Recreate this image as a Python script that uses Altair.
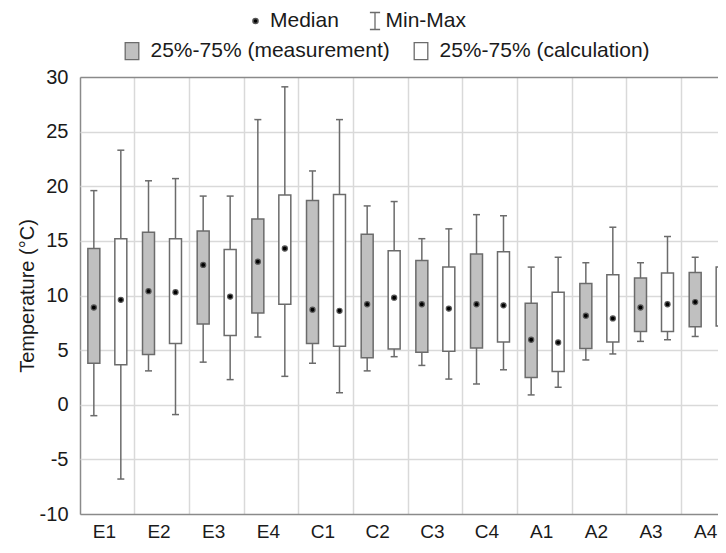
import altair as alt
import pandas as pd

categories = ["E1", "E2", "E3", "E4", "C1", "C2", "C3", "C4", "A1", "A2", "A3", "A4"]
types = ["25%-75% (measurement)", "25%-75% (calculation)"]

meas_min = [-1.0, 3.1, 3.9, 6.2, 3.8, 3.1, 3.6, 1.9, 0.9, 4.1, 5.8, 6.25]
meas_q1 = [3.8, 4.6, 7.4, 8.4, 5.6, 4.3, 4.8, 5.2, 2.5, 5.15, 6.7, 7.15]
meas_med = [8.9, 10.4, 12.8, 13.1, 8.7, 9.2, 9.2, 9.2, 5.95, 8.15, 8.9, 9.4]
meas_q3 = [14.3, 15.8, 15.9, 17.0, 18.7, 15.6, 13.2, 13.8, 9.3, 11.1, 11.6, 12.1]
meas_max = [19.6, 20.5, 19.1, 26.1, 21.4, 18.2, 15.2, 17.4, 12.6, 13.0, 13.0, 13.5]

calc_min = [-6.8, -0.9, 2.3, 2.6, 1.1, 4.4, 2.35, 3.2, 1.6, 4.65, 5.95, 6.5]
calc_q1 = [3.65, 5.6, 6.35, 9.2, 5.35, 5.1, 4.9, 5.75, 3.05, 5.75, 6.7, 7.2]
calc_med = [9.6, 10.3, 9.9, 14.3, 8.6, 9.8, 8.8, 9.1, 5.7, 7.9, 9.2, 9.7]
calc_q3 = [15.2, 15.2, 14.2, 19.2, 19.25, 14.1, 12.6, 14.0, 10.3, 11.9, 12.05, 12.6]
calc_max = [23.3, 20.7, 19.1, 29.1, 26.1, 18.6, 16.1, 17.3, 13.5, 16.25, 15.4, 15.9]

rows = []
for i, c in enumerate(categories):
    rows.append(dict(cat=c, type=types[0], mn=meas_min[i], q1=meas_q1[i], med=meas_med[i],
                     q3=meas_q3[i], mx=meas_max[i], leg="Median", mm="Min-Max"))
    rows.append(dict(cat=c, type=types[1], mn=calc_min[i], q1=calc_q1[i], med=calc_med[i],
                     q3=calc_q3[i], mx=calc_max[i], leg="Median", mm="Min-Max"))
df = pd.DataFrame(rows)

FONT = "Liberation Sans"
W, H = 638, 437          # visible plot area
RANGE_W = 656            # full band range (the last box runs past the page edge)
DARK = "#8a8a8a"
GRID = "#d9d9d9"
LINE = "#6b6b6b"
TXT = "#1a1a1a"

dot_path = "M0,-0.3A0.3,0.3 0 1,1 0,0.3A0.3,0.3 0 1,1 0,-0.3Z"
ibeam_path = "M-0.6,-1H0.6M0,-1V1M-0.6,1H0.6"
rect_path = "M-0.8,-1H0.8V1H-0.8Z"
cap_path = "M-1,0H1"

x_enc = alt.X("cat:N", sort=categories,
              scale=alt.Scale(domain=categories, paddingInner=0, paddingOuter=0,
                              range=[0, RANGE_W]),
              axis=alt.Axis(title=None, bandPosition=0, grid=True,
                            gridColor={"condition": {"test": "datum.value === 'E1'",
                                                     "value": DARK}, "value": GRID},
                            gridWidth=1.5, ticks=False, domain=False, labelAngle=0,
                            labelFontSize=19, labelColor=TXT, labelOffset=-3,
                            labelPadding=8, labelFont=FONT))
xo_enc = alt.XOffset("type:N", sort=types,
                     scale=alt.Scale(domain=types, paddingInner=0.556, paddingOuter=0.291))
y_scale = alt.Scale(domain=[-10, 30], nice=False)

base = alt.Chart(df).encode(x=x_enc, xOffset=xo_enc)

whisk = base.mark_rule(color=LINE, strokeWidth=1.5).encode(
    y=alt.Y("mn:Q", scale=y_scale,
            axis=alt.Axis(title="Temperature (°C)", values=list(range(-10, 31, 5)),
                          labelExpr="replace(datum.label, '\u2212', '-')",
                          grid=True,
                          gridColor={"condition": {"test": "datum.value === 30 || datum.value === -10",
                                                   "value": DARK}, "value": GRID},
                          gridWidth=1.5, ticks=False,
                          domain=False, labelFontSize=20, labelColor=TXT,
                          labelPadding=12, labelFont=FONT, titleFont=FONT,
                          titleFontSize=20, titleFontWeight="normal", titleColor=TXT,
                          titlePadding=2)),
    y2="mx:Q",
)
cap_lo = base.mark_point(shape=cap_path, filled=False, color=LINE, strokeWidth=1.5,
                         size=49, opacity=1).encode(
    y=alt.Y("mn:Q", scale=y_scale))
cap_hi = base.mark_point(shape=cap_path, filled=False, strokeWidth=1.5,
                         size=49, opacity=1).encode(
    y=alt.Y("mx:Q", scale=y_scale),
    color=alt.Color("mm:N", scale=alt.Scale(domain=["Min-Max"], range=[LINE]),
                    legend=alt.Legend(title=None, orient="none", direction="horizontal",
                                      legendX=284.5, legendY=-66.5,
                                      symbolType=ibeam_path, symbolSize=289,
                                      symbolStrokeWidth=1.3, labelFontSize=21,
                                      labelFont=FONT, labelColor=TXT, labelOffset=0,
                                      labelLimit=0, padding=0)),
)

boxes = base.mark_bar(stroke=LINE, strokeWidth=1.5).encode(
    y=alt.Y("q1:Q", scale=y_scale),
    y2="q3:Q",
    fill=alt.Fill("type:N", sort=types,
                  scale=alt.Scale(domain=types, range=["#c0c0c0", "#ffffff"]),
                  legend=alt.Legend(title=None, orient="none", direction="horizontal",
                                    legendX=41.5, legendY=-36.5, symbolType=rect_path,
                                    symbolSize=289, symbolStrokeColor=LINE,
                                    symbolStrokeWidth=1.3, labelFontSize=21,
                                    labelFont=FONT, labelColor=TXT, labelOffset=8,
                                    labelLimit=0, columnPadding=20, padding=0)),
)

meds = base.mark_point(filled=True, fill="black", stroke="#555555", strokeWidth=1.2,
                       size=289, opacity=1).encode(
    y=alt.Y("med:Q", scale=y_scale),
    shape=alt.Shape("leg:N", scale=alt.Scale(domain=["Median"], range=[dot_path]),
                    legend=alt.Legend(title=None, orient="none", direction="horizontal",
                                      legendX=165, legendY=-66.5, symbolSize=289,
                                      labelFontSize=21, labelFont=FONT,
                                      labelColor=TXT, labelOffset=4,
                                      labelLimit=0, padding=0)),
)

chart = alt.layer(whisk, cap_lo, cap_hi, boxes, meds).properties(
    width=W, height=H,
    autosize=alt.AutoSizeParams(type="none"),
    padding={"left": 72, "top": 69, "right": 0, "bottom": 31},
).configure_view(stroke="transparent").configure(font=FONT)

chart.save("out.html", embed_options={"renderer": "svg", "actions": False})
